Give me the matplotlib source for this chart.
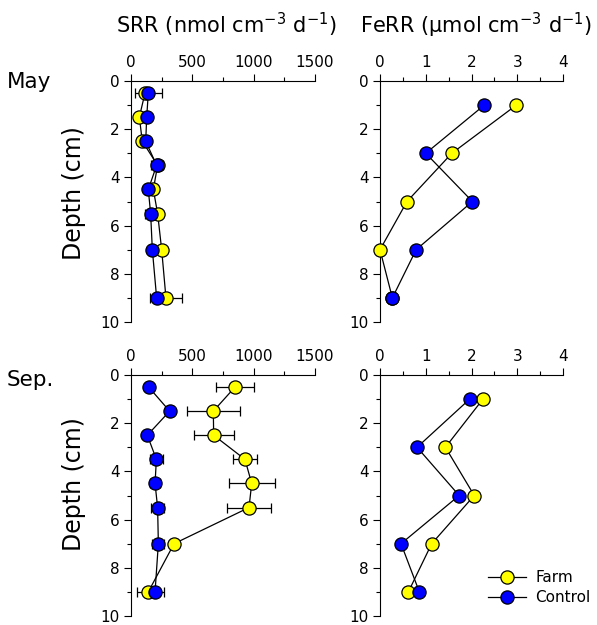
import matplotlib
matplotlib.use("Agg")
import matplotlib.pyplot as plt
from matplotlib.ticker import MultipleLocator
from matplotlib.lines import Line2D

plt.rcParams['font.family'] = ['DejaVu Sans']
plt.rcParams['mathtext.default'] = 'regular'

# ---- data ----
depth_srr = [0.5, 1.5, 2.5, 3.5, 4.5, 5.5, 7, 9]
depth_ferr = [1, 3, 5, 7, 9]

srr_may_farm = [114, 68, 92, 217, 182, 217, 250, 285]
srr_may_farm_err = [0, 0, 0, 0, 33, 0, 0, 133]
srr_may_ctrl = [141, 128, 120, 209, 141, 160, 174, 209]
srr_may_ctrl_err = [110, 0, 0, 50, 0, 45, 0, 0]

srr_sep_farm = [848, 671, 674, 929, 984, 962, 351, 141]
srr_sep_farm_err = [155, 217, 162, 100, 187, 177, 0, 90]
srr_sep_ctrl = [144, 315, 133, 207, 196, 217, 223, 196]
srr_sep_ctrl_err = [0, 0, 0, 50, 40, 55, 50, 70]

ferr_may_farm = [2.98, 1.57, 0.59, 0.0, 0.27]
ferr_may_ctrl = [2.28, 1.00, 2.02, 0.79, 0.27]
ferr_sep_farm = [2.25, 1.43, 2.06, 1.13, 0.62]
ferr_sep_ctrl = [1.96, 0.81, 1.73, 0.46, 0.86]

series_names = ["Farm", "Control"]
colors = ["#FFFF00", "#0000FF"]

W, H = 597, 625
fig = plt.figure(figsize=(W / 100, H / 100), dpi=100)

def rect(x0, y0, x1, y1):
    return [x0 / W, 1 - y1 / H, (x1 - x0) / W, (y1 - y0) / H]

ax_tl = fig.add_axes(rect(131, 81, 315, 322))
ax_tr = fig.add_axes(rect(380, 81, 563, 322))
ax_bl = fig.add_axes(rect(131, 375, 315, 616))
ax_br = fig.add_axes(rect(380, 375, 563, 616))

def style(ax, xmax, xmajor, xminor):
    ax.set_xlim(0, xmax)
    ax.set_ylim(10, 0)
    ax.xaxis.set_major_locator(MultipleLocator(xmajor))
    ax.xaxis.set_minor_locator(MultipleLocator(xminor))
    ax.yaxis.set_major_locator(MultipleLocator(2))
    ax.yaxis.set_minor_locator(MultipleLocator(1))
    ax.xaxis.tick_top()
    ax.spines['right'].set_visible(False)
    ax.spines['bottom'].set_visible(False)
    for s in ('left', 'top'):
        ax.spines[s].set_linewidth(0.8)
    ax.tick_params(which='major', direction='out', length=5, width=0.8,
                   labelsize=11, top=True, bottom=False, labeltop=True,
                   labelbottom=False, pad=3)
    ax.tick_params(which='minor', direction='out', length=3, width=0.8,
                   top=True, bottom=False)
    ax.patch.set_alpha(0)

def plot_series(ax, x, y, c, xerr=None):
    if xerr is not None:
        ax.errorbar(x, y, xerr=xerr, fmt='none', ecolor='black',
                    elinewidth=0.9, capsize=3.5, capthick=0.9, zorder=2)
    ax.plot(x, y, '-', color='black', lw=0.9, marker='o', markersize=9.5,
            markerfacecolor=c, markeredgecolor='black', markeredgewidth=0.9,
            zorder=3, clip_on=False)

style(ax_tl, 1500, 500, 250)
style(ax_bl, 1500, 500, 250)
style(ax_tr, 4, 1, 0.5)
style(ax_br, 4, 1, 0.5)

plot_series(ax_tl, srr_may_farm, depth_srr, colors[0], srr_may_farm_err)
plot_series(ax_tl, srr_may_ctrl, depth_srr, colors[1], srr_may_ctrl_err)
plot_series(ax_bl, srr_sep_farm, depth_srr, colors[0], srr_sep_farm_err)
plot_series(ax_bl, srr_sep_ctrl, depth_srr, colors[1], srr_sep_ctrl_err)
plot_series(ax_tr, ferr_may_farm, depth_ferr, colors[0])
plot_series(ax_tr, ferr_may_ctrl, depth_ferr, colors[1])
plot_series(ax_br, ferr_sep_farm, depth_ferr, colors[0])
plot_series(ax_br, ferr_sep_ctrl, depth_ferr, colors[1])

fig.text(74 / W, 1 - 193 / H, "Depth (cm)", rotation=90,
         ha='center', va='center', fontsize=17)
fig.text(74 / W, 1 - 484 / H, "Depth (cm)", rotation=90,
         ha='center', va='center', fontsize=17)

fig.text(226 / W, 1 - 25 / H, r"SRR (nmol cm$^{-3}$ d$^{-1}$)",
         ha='center', va='center', fontsize=15)
fig.text(476 / W, 1 - 25 / H, "FeRR (\u03bcmol cm$^{-3}$ d$^{-1}$)",
         ha='center', va='center', fontsize=15)
fig.text(7 / W, 1 - 82 / H, "May", ha='left', va='center', fontsize=15.5)
fig.text(7 / W, 1 - 380 / H, "Sep.", ha='left', va='center', fontsize=15.5)

handles = [Line2D([0], [0], color='black', lw=0.9, marker='o', markersize=9.5,
                  markerfacecolor=c, markeredgecolor='black', markeredgewidth=0.9)
           for c in colors]
fig.legend(handles, series_names, loc='upper left',
           bbox_to_anchor=(488 / W, 1 - 570 / H), frameon=False,
           fontsize=11, handlelength=2.5, handletextpad=0.6,
           labelspacing=0.35, borderpad=0, borderaxespad=0)

fig.savefig("out.png", dpi=100)
